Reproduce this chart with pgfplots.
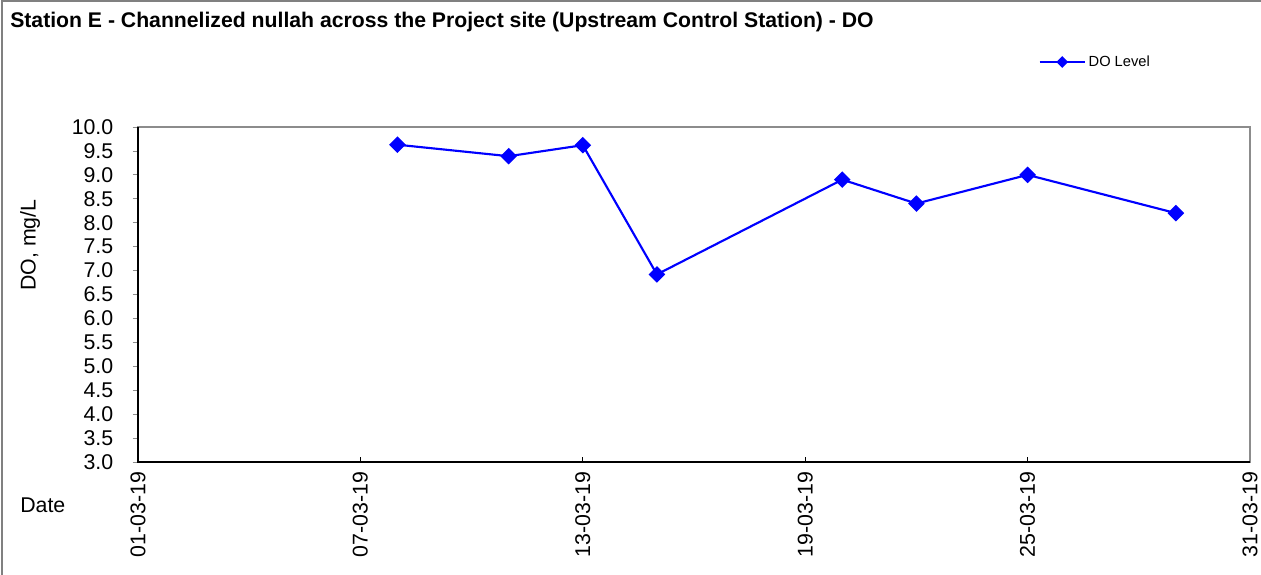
\documentclass[border=0pt]{standalone}
\usepackage{pgfplots}
\pgfplotsset{compat=1.18}
\usepackage{fontspec}
\setmainfont{Liberation Sans}
\definecolor{frame}{RGB}{128,128,128}
\definecolor{axgray}{RGB}{140,140,140}

\begin{document}
\begin{tikzpicture}
  % page = 1261 x 575 px, 1px = 0.75pt
  \useasboundingbox (0,0) rectangle (945.75pt,431.25pt);
  \draw[frame, line width=1.2pt] (1.5pt,-10pt) rectangle (960pt,430.5pt);
  \node[anchor=west, font=\fontsize{15.9}{18}\selectfont\bfseries, inner sep=0pt]
    at (7.5pt,414.75pt) {Station E - Channelized nullah across the Project site (Upstream Control Station) - DO};
  \node[rotate=90, font=\fontsize{16}{18}\selectfont, inner sep=0pt] at (22.5pt,247.5pt) {DO, mg/L};
  \node[anchor=west, font=\fontsize{16}{18}\selectfont, inner sep=0pt] at (15pt,52.5pt) {Date};
  \begin{axis}[
    at={(103.5pt,84.75pt)}, anchor=south west,
    scale only axis,
    width=834pt, height=251.25pt,
    xmin=1, xmax=31,
    ymin=3, ymax=10,
    xtick={1,7,13,19,25,31},
    xticklabels={01-03-19,07-03-19,13-03-19,19-03-19,25-03-19,31-03-19},
    ytick={3,3.5,...,10},
    yticklabels={3.0,3.5,4.0,4.5,5.0,5.5,6.0,6.5,7.0,7.5,8.0,8.5,9.0,9.5,10.0},
    tick pos=left,
    xtick align=inside, ytick align=outside,
    major tick length=4pt,
    x tick style={black, line width=0.5pt},
    y tick style={axgray, line width=0.6pt},
    x tick label style={rotate=90, anchor=east, font=\fontsize{16}{18}\selectfont, xshift=-4pt},
    y tick label style={font=\fontsize{16}{18}\selectfont, xshift=-11pt},
    axis line style={axgray, line width=1.5pt},
    legend style={at={(axis description cs:0.806,1.194)}, anchor=west, draw=none, fill=none,
      font=\fontsize{11}{13}\selectfont},
    legend image code/.code={\draw[mark repeat=2, mark phase=2, #1, mark size=2.3pt]
      plot coordinates {(0pt,0pt) (17pt,0pt) (34pt,0pt)};},
    clip=false,
  ]
    \draw[black, line width=1.1pt] (rel axis cs:0,1) -- (rel axis cs:0,0) -- (rel axis cs:1,0);
    \addplot[blue, line width=1.6pt, mark=square*, mark size=3.6pt,
      mark options={rotate=45, solid}] coordinates {
      (8,9.63) (11,9.39) (13,9.62) (15,6.92) (20,8.90) (22,8.40) (25,9.00) (29,8.20)
    };
    \addlegendentry{DO Level}
  \end{axis}
\end{tikzpicture}
\end{document}
